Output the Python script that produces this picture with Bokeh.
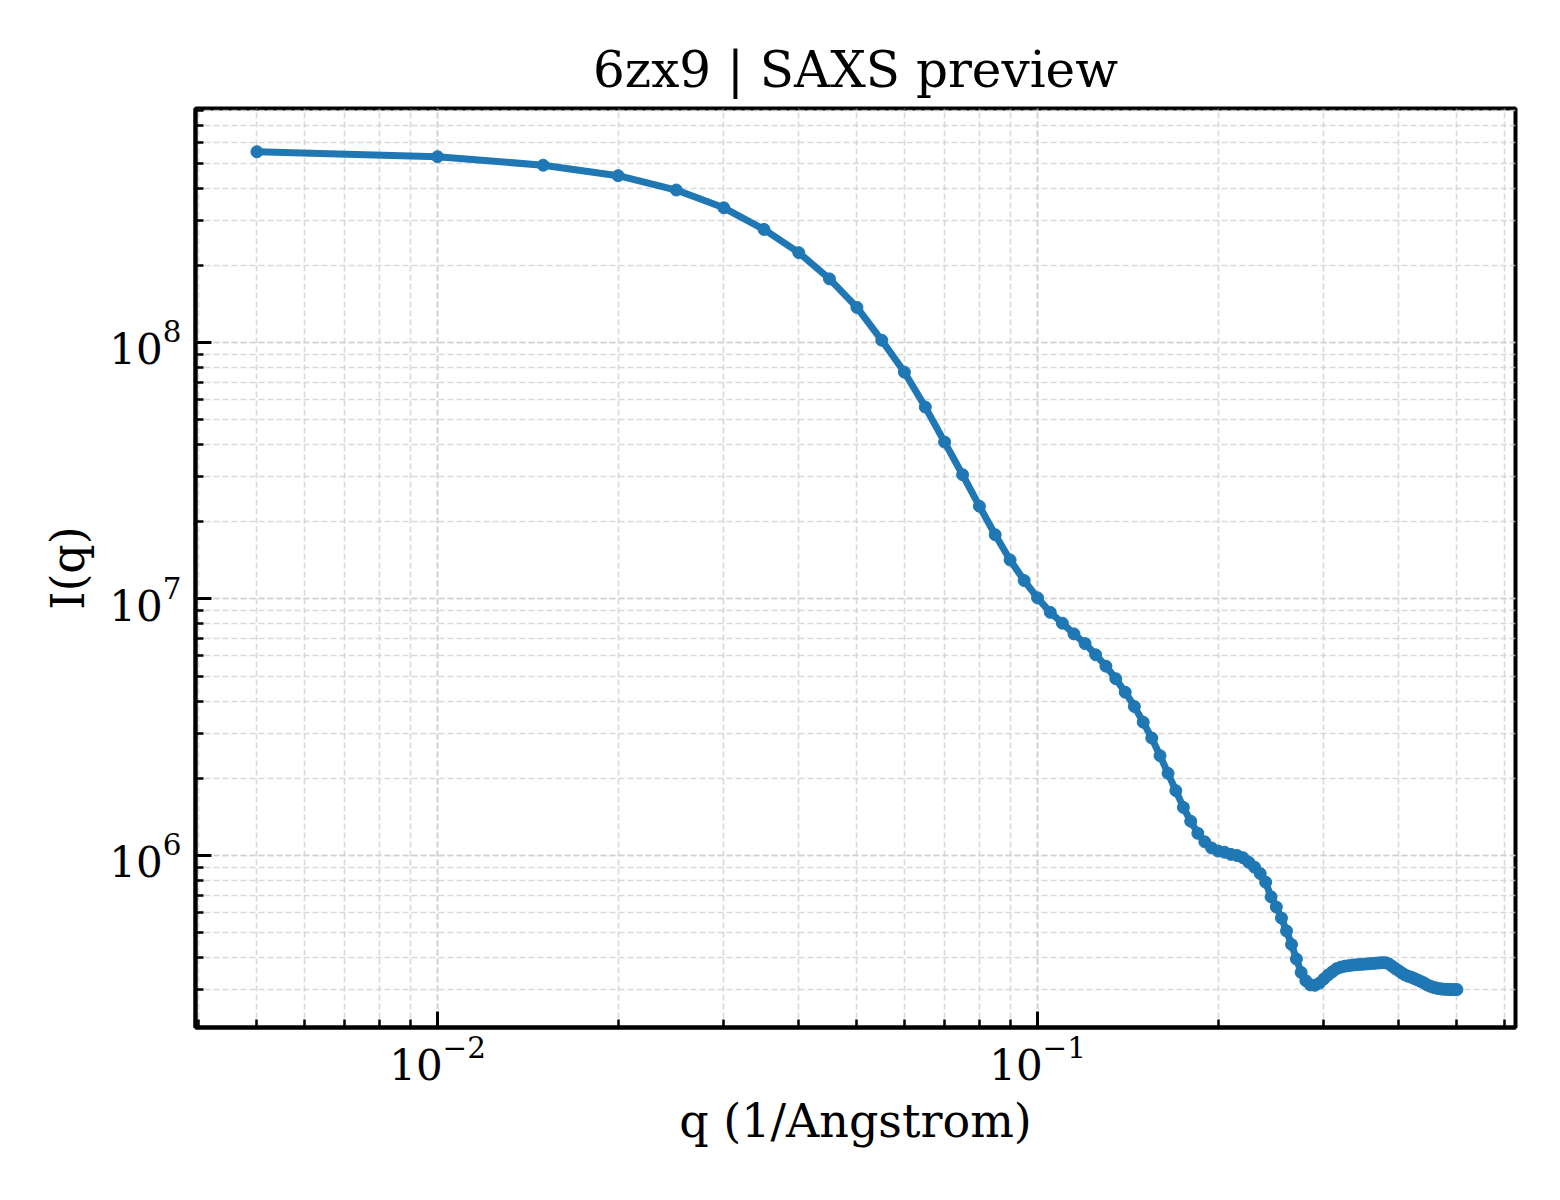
from bokeh.embed import file_html
from bokeh.models import Range1d
from bokeh.plotting import figure
from bokeh.resources import INLINE

q = [
    0.005, 0.010, 0.015, 0.020, 0.025, 0.030, 0.035, 0.040, 0.045, 0.050,
    0.055, 0.060, 0.065, 0.070, 0.075, 0.080, 0.085, 0.090, 0.095, 0.100,
    0.105, 0.110, 0.115, 0.120, 0.125, 0.130, 0.135, 0.140, 0.145, 0.150,
    0.155, 0.160, 0.165, 0.170, 0.175, 0.180, 0.185, 0.190, 0.195, 0.200,
    0.205, 0.210, 0.215, 0.220, 0.225, 0.230, 0.235, 0.240, 0.245, 0.250,
    0.255, 0.260, 0.265, 0.270, 0.275, 0.280, 0.285, 0.290, 0.295, 0.300,
    0.305, 0.310, 0.315, 0.320, 0.325, 0.330, 0.335, 0.340, 0.345, 0.350,
    0.355, 0.360, 0.365, 0.370, 0.375, 0.380, 0.385, 0.390, 0.395, 0.400,
    0.405, 0.410, 0.415, 0.420, 0.425, 0.430, 0.435, 0.440, 0.445, 0.450,
    0.455, 0.460, 0.465, 0.470, 0.475, 0.480, 0.485, 0.490, 0.495, 0.500,
]
intensity = [
    5.54e8, 5.30e8, 4.91e8, 4.47e8, 3.93e8, 3.35e8, 2.76e8, 2.24e8, 1.77e8, 1.37e8,
    1.02e8, 7.66e7, 5.60e7, 4.09e7, 3.05e7, 2.30e7, 1.78e7, 1.42e7, 1.18e7, 1.01e7,
    8.87e6, 8.05e6, 7.31e6, 6.70e6, 6.06e6, 5.47e6, 4.89e6, 4.33e6, 3.81e6, 3.31e6,
    2.87e6, 2.45e6, 2.09e6, 1.79e6, 1.54e6, 1.36e6, 1.22e6, 1.13e6, 1.07e6, 1.04e6,
    1.03e6, 1.01e6, 1.00e6, 9.80e5, 9.40e5, 9.00e5, 8.50e5, 7.87e5, 6.90e5, 6.30e5,
    5.70e5, 5.08e5, 4.50e5, 3.95e5, 3.50e5, 3.25e5, 3.13e5, 3.12e5, 3.18e5, 3.30e5,
    3.42e5, 3.52e5, 3.62e5, 3.67e5, 3.70e5, 3.72e5, 3.74e5, 3.75e5, 3.76e5, 3.77e5,
    3.78e5, 3.79e5, 3.80e5, 3.81e5, 3.82e5, 3.82e5, 3.78e5, 3.70e5, 3.62e5, 3.55e5,
    3.48e5, 3.42e5, 3.38e5, 3.35e5, 3.31e5, 3.27e5, 3.23e5, 3.19e5, 3.14e5, 3.10e5,
    3.07e5, 3.05e5, 3.03e5, 3.02e5, 3.01e5, 3.01e5, 3.00e5, 3.00e5, 3.00e5, 3.00e5,
]

FONT = 'DejaVu Serif'
BLUE = '#1f77b4'
GRID = '#cfcfcf'


def style_axis(axis, standoff=14, label_standoff=14):
    axis.axis_line_color = 'black'
    axis.axis_line_width = 4
    axis.major_tick_in = 16
    axis.major_tick_out = 0
    axis.minor_tick_in = 8
    axis.minor_tick_out = 0
    axis.major_tick_line_width = 3
    axis.minor_tick_line_width = 2.5
    axis.major_label_text_font = FONT
    axis.major_label_text_font_size = '42px'
    axis.major_label_text_color = 'black'
    axis.major_label_standoff = standoff
    axis.axis_label_text_font = FONT
    axis.axis_label_text_font_size = '46px'
    axis.axis_label_text_font_style = 'normal'
    axis.axis_label_text_color = 'black'
    axis.axis_label_standoff = label_standoff


def plot_saxs():
    p = figure(
        frame_width=1320,
        frame_height=919,
        x_axis_type='log',
        y_axis_type='log',
        x_range=Range1d(0.00395, 0.626),
        y_range=Range1d(2.135e5, 8.17e8),
        output_backend='svg',
        toolbar_location=None,
        min_border_left=195,
        min_border_right=37,
        min_border_top=108,
        min_border_bottom=165,
        title='6zx9 | SAXS preview',
    )
    p.title.text_font = FONT
    p.title.text_font_size = '50px'
    p.title.text_font_style = 'normal'
    p.title.text_color = 'black'
    p.title.align = 'center'
    p.title.standoff = 19

    p.outline_line_color = 'black'
    p.outline_line_width = 4
    p.outline_line_alpha = 1

    p.xaxis.axis_label = 'q (1/Angstrom)'
    p.yaxis.axis_label = 'I(q)'
    style_axis(p.xaxis[0], standoff=8, label_standoff=11)
    style_axis(p.yaxis[0], standoff=14, label_standoff=11)

    p.grid.grid_line_color = GRID
    p.grid.grid_line_dash = '6 3'
    p.grid.grid_line_width = 1.6
    p.grid.grid_line_alpha = 0.9
    p.grid.minor_grid_line_color = GRID
    p.grid.minor_grid_line_dash = '6 3'
    p.grid.minor_grid_line_width = 1.6
    p.grid.minor_grid_line_alpha = 0.8

    p.line(q, intensity, line_width=7, color=BLUE)
    p.scatter(q, intensity, size=12, color=BLUE)

    with open('out.html', 'w') as f:
        f.write(file_html(p, INLINE))


def main():
    plot_saxs()


if __name__ == '__main__':
    main()
